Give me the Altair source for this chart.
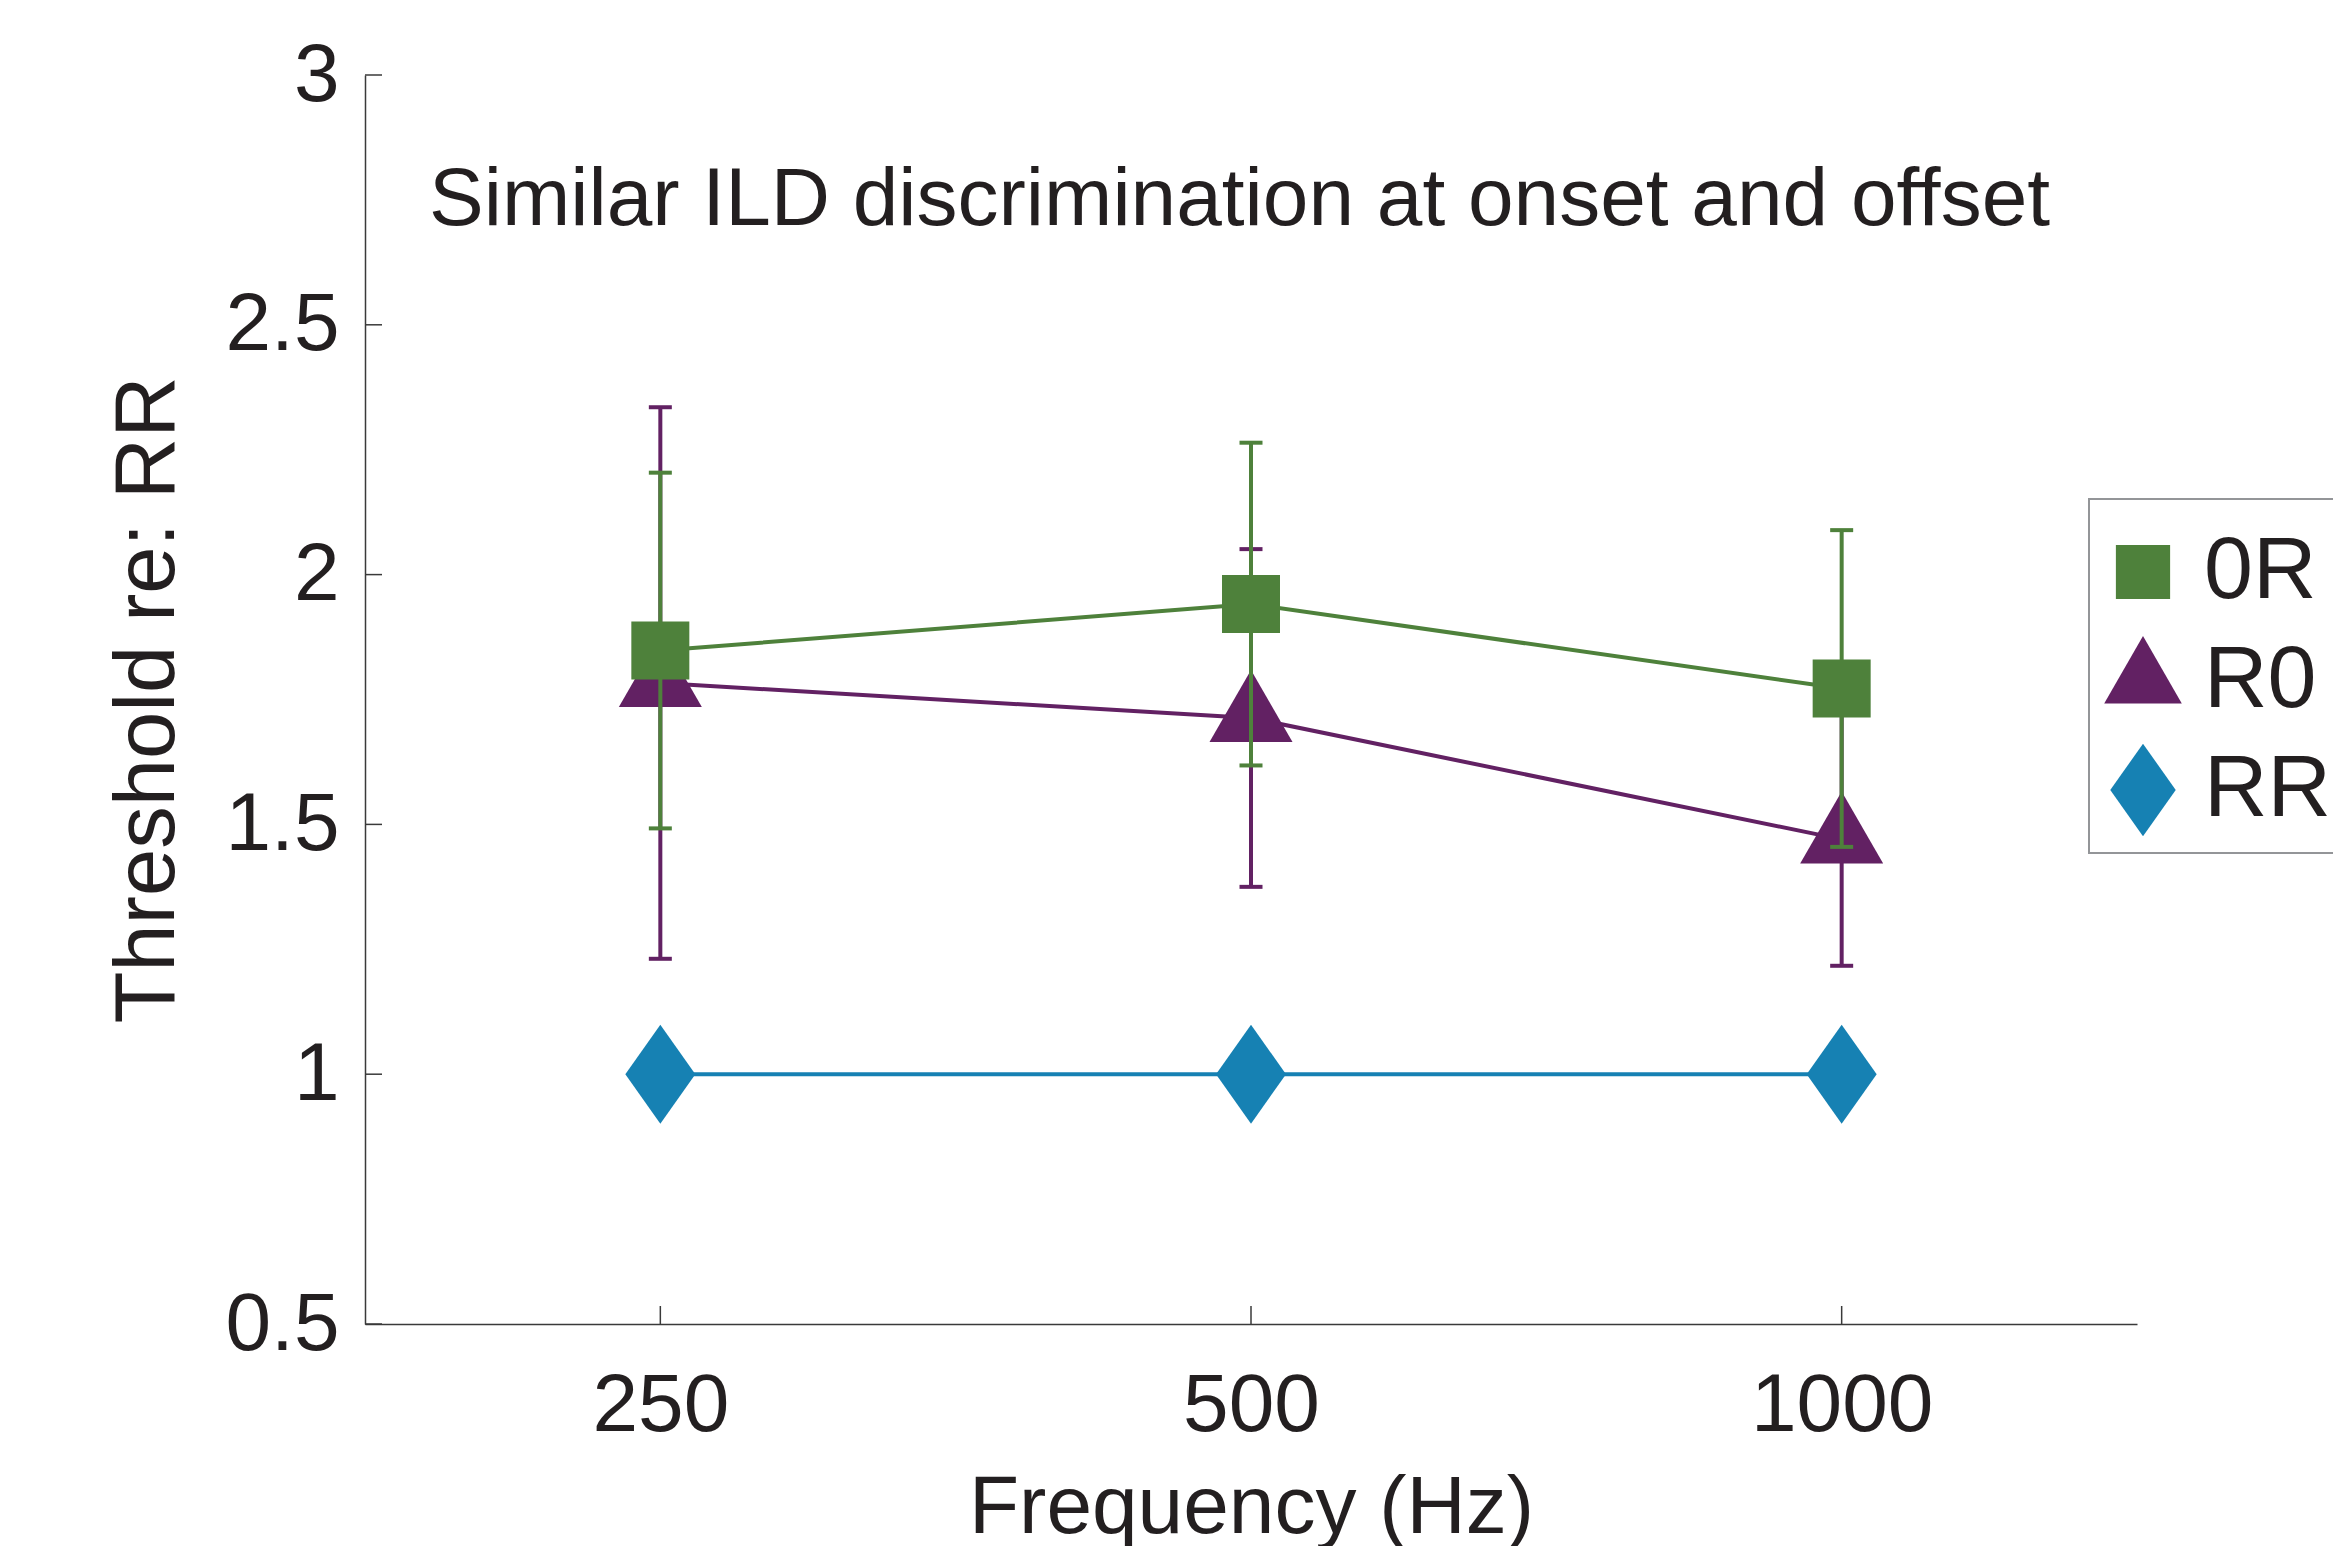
import altair as alt
import pandas as pd

# ---- data ----
freqs = [250, 500, 1000]
series_names = ["0R", "R0", "RR"]
mean_0R = [1.848, 1.941, 1.772]
err_0R = [0.356, 0.323, 0.317]
mean_R0 = [1.783, 1.713, 1.470]
err_R0 = [0.552, 0.338, 0.253]
mean_RR = [1.0, 1.0, 1.0]
err_RR = [0.0, 0.0, 0.0]
y_tick_values = [0.5, 1, 1.5, 2, 2.5, 3]
x_tick_values = [250, 500, 1000]
panel_title = "Similar ILD discrimination at onset and offset"
x_title = "Frequency (Hz)"
y_title = "Threshold re: RR"

# ---- styles ----
FONT = "Liberation Sans"
TEXT = "#231F20"
AXIS = "#3A3A3A"
colors = ["#4E813B", "#622163", "#1681B3"]
color_of = dict(zip(series_names, colors))
shapes = [
    "M-0.58,-0.58L0.58,-0.58L0.58,0.58L-0.58,0.58Z",
    "M0,-0.96L0.83,0.48L-0.83,0.48Z",
    "M0,-0.99L0.70,0L0,0.99L-0.70,0Z",
]
W, H = 1772, 1249
LW = 4

rows = []
for name, means, errs in zip(series_names, [mean_0R, mean_R0, mean_RR], [err_0R, err_R0, err_RR]):
    for f, m, e in zip(freqs, means, errs):
        rows.append({"freq": f, "series": name, "mean": m, "err": e})
df = pd.DataFrame(rows)

x_scale = alt.Scale(type="log", base=2, domain=[250 / 2 ** 0.5, 1000 * 2 ** 0.5])
y_scale = alt.Scale(domain=[0.5, 3], nice=False, zero=False)
color_scale = alt.Scale(domain=series_names, range=colors)
shape_scale = alt.Scale(domain=series_names, range=shapes)

x_axis = alt.Axis(
    title=x_title, values=x_tick_values, format="d", ticks=False, grid=False,
    labelFontSize=82, labelPadding=41, labelFlush=False, labelOverlap=False, labelLimit=0,
    labelColor=TEXT, titleColor=TEXT, titleFontSize=82, titleFontWeight="normal",
    titleBaseline="alphabetic", titleY=208, domainColor=AXIS, domainWidth=1.5,
)
y_axis = alt.Axis(
    title=y_title, values=y_tick_values, format="~g", ticks=False, grid=False,
    labelFontSize=82, labelPadding=26, labelFlush=False, labelOverlap=False, labelLimit=0,
    labelColor=TEXT, titleColor=TEXT, titleFontSize=85, titleFontWeight="normal",
    titleBaseline="alphabetic", titleX=-192, titleY=H / 2, domainColor=AXIS, domainWidth=1.5,
)

X = alt.X("freq:Q", scale=x_scale, axis=x_axis)
Y = alt.Y("mean:Q", scale=y_scale, axis=y_axis)

legend = alt.Legend(
    orient="none", legendX=1724, legendY=424, padding=16, rowPadding=18,
    labelFontSize=88, labelOffset=14, labelColor=TEXT, labelFont=FONT, labelLimit=0,
    symbolSize=8742, symbolStrokeWidth=0, symbolOffset=-9,
    strokeColor="#939598", title="\u00a0" * 200, titleFontSize=8, titlePadding=2,
    titleLimit=0,
)

# inward tick marks
y_ticks = alt.Chart(pd.DataFrame({"v": y_tick_values})).mark_rule(
    color=AXIS, strokeWidth=1.5
).encode(y=alt.Y("v:Q", scale=y_scale, axis=y_axis), x=alt.value(0), x2=alt.value(17))
x_ticks = alt.Chart(pd.DataFrame({"f": x_tick_values})).mark_rule(
    color=AXIS, strokeWidth=1.5
).encode(x=alt.X("f:Q", scale=x_scale, axis=x_axis), y=alt.value(H), y2=alt.value(H - 18))

layers = [y_ticks, x_ticks]
for name in ["RR", "R0", "0R"]:
    col = color_of[name]
    base = alt.Chart(df).transform_filter(alt.datum.series == name)
    layers.append(base.mark_line(strokeWidth=LW, color=col).encode(x=X, y=Y))
    eb = base.transform_filter("datum.err > 0").transform_calculate(
        lo="datum.mean - datum.err", hi="datum.mean + datum.err"
    )
    layers.append(
        eb.mark_rule(strokeWidth=LW, color=col).encode(
            x=X, y=alt.Y("lo:Q", scale=y_scale, axis=y_axis), y2="hi:Q"
        )
    )
    for fld in ["lo", "hi"]:
        layers.append(
            eb.mark_tick(orient="horizontal", size=23, thickness=LW, opacity=1, color=col).encode(
                x=X, y=alt.Y(f"{fld}:Q", scale=y_scale, axis=y_axis)
            )
        )
    layers.append(
        base.mark_point(filled=True, opacity=1, size=10000, strokeWidth=0).encode(
            x=X, y=Y,
            color=alt.Color("series:N", scale=color_scale, legend=legend),
            shape=alt.Shape("series:N", scale=shape_scale, legend=legend),
        )
    )

title_layer = alt.Chart(pd.DataFrame({"t": [panel_title]})).mark_text(
    align="left", baseline="alphabetic", fontSize=82, font=FONT, color=TEXT
).encode(x=alt.value(64), y=alt.value(150), text="t:N")
layers.append(title_layer)

chart = alt.layer(*layers).properties(
    width=W, height=H,
    padding={"left": 357, "top": 67, "right": 196, "bottom": 222},
    autosize=alt.AutoSizeParams(type="none"),
).configure(font=FONT).configure_view(stroke=None).configure_legend(strokeWidth=2)

chart.save("out.html", embed_options={"renderer": "svg", "actions": False})
